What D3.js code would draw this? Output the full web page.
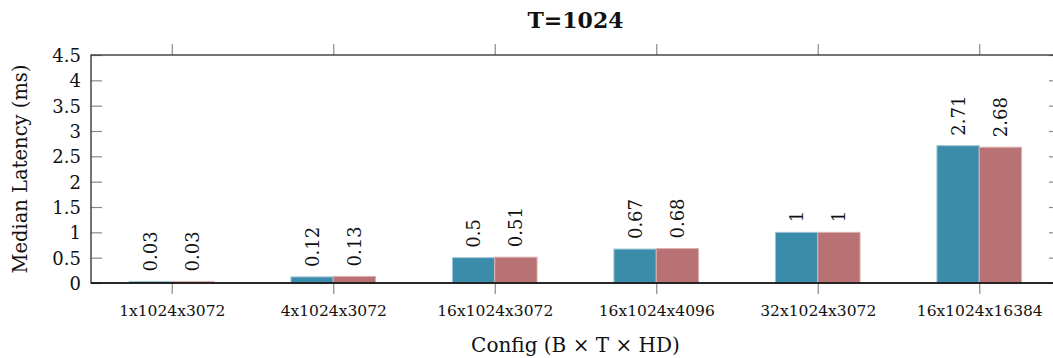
<!DOCTYPE html>
<html>
<head>
<meta charset="utf-8">
<script src="https://cdn.jsdelivr.net/npm/d3@7/dist/d3.min.js"></script>
<style>
  html, body { margin: 0; padding: 0; background: #fff; }
  svg { display: block; overflow: hidden; }
  text { font-family: "DejaVu Serif", "Liberation Serif", serif; fill: #111; }
</style>
</head>
<body>
<div id="chart"></div>
<script>
// Median latency per configuration, T = 1024
const configs = ["1x1024x3072", "4x1024x3072", "16x1024x3072", "16x1024x4096", "32x1024x3072", "16x1024x16384"];
const seriesA = [0.03, 0.12, 0.5, 0.67, 1, 2.71];
const seriesB = [0.03, 0.13, 0.51, 0.68, 1, 2.68];
const yTicks = [0, 0.5, 1, 1.5, 2, 2.5, 3, 3.5, 4, 4.5];

const colorA = "#3b8bab", strokeA = "#9cc6d6";
const colorB = "#b87273", strokeB = "#dbb1b1";

const W = 1053, H = 358;
const margin = { left: 91, right: -7, top: 55, bottom: 75 };
const x0 = margin.left, x1 = W - margin.right;
const y0 = H - margin.bottom, y1 = margin.top;

const svg = d3.select("#chart").append("svg")
  .attr("width", W).attr("height", H);

const x = d3.scalePoint().domain(configs).range([x0, x1]).padding(0.5);
const y = d3.scaleLinear().domain([0, 4.5]).range([y0, y1]);
const barW = x.step() * 0.262;
const tickLen = 11;

// Bars
const groups = svg.append("g").selectAll("g")
  .data(configs).join("g");

groups.append("rect")
  .attr("x", d => x(d) - barW)
  .attr("y", (d, i) => y(seriesA[i]))
  .attr("width", barW)
  .attr("height", (d, i) => y(0) - y(seriesA[i]))
  .attr("fill", colorA).attr("stroke", strokeA).attr("stroke-width", 1);

groups.append("rect")
  .attr("x", d => x(d))
  .attr("y", (d, i) => y(seriesB[i]))
  .attr("width", barW)
  .attr("height", (d, i) => y(0) - y(seriesB[i]))
  .attr("fill", colorB).attr("stroke", strokeB).attr("stroke-width", 1);

// Value labels, rotated above each bar
function valueLabel(sel, values, offset) {
  sel.append("text")
    .attr("transform", (d, i) => `translate(${x(d) + offset},${y(values[i]) - 10}) rotate(-90)`)
    .attr("dy", "0.36em")
    .attr("font-size", 18)
    .attr("text-anchor", "start")
    .text((d, i) => String(values[i]));
}
valueLabel(groups, seriesA, -barW / 2);
valueLabel(groups, seriesB, barW / 2);

// Y axes (left with labels, right mirrored), ticks pointing inward
const yLeft = svg.append("g").attr("transform", `translate(${x0},0)`)
  .call(d3.axisLeft(y).tickValues(yTicks).tickSize(-tickLen).tickPadding(10).tickFormat(d3.format("")));
const yRight = svg.append("g").attr("transform", `translate(${x1},0)`)
  .call(d3.axisRight(y).tickValues(yTicks).tickSize(-tickLen).tickFormat(""));

// X axes (bottom with labels, top mirrored), ticks pointing outward
const xBottom = svg.append("g").attr("transform", `translate(0,${y0})`)
  .call(d3.axisBottom(x).tickSize(tickLen).tickPadding(11));
const xTop = svg.append("g").attr("transform", `translate(0,${y1})`)
  .call(d3.axisTop(x).tickSize(tickLen).tickFormat(""));

[yLeft, yRight, xBottom, xTop].forEach(g => {
  g.select(".domain").remove();
  g.selectAll(".tick line").attr("stroke", "#8a8a8a").attr("stroke-width", 1.2);
  g.selectAll("text").attr("fill", "#111").attr("font-family", "DejaVu Serif");
});
yLeft.selectAll("text").attr("font-size", 18).attr("text-anchor", "end").attr("dy", "0.36em");
xBottom.selectAll("text").attr("font-size", 15.5);

// Frame
svg.append("rect")
  .attr("x", x0).attr("y", y1)
  .attr("width", x1 - x0).attr("height", y0 - y1)
  .attr("fill", "none").attr("stroke", "#3a3a3a").attr("stroke-width", 1.4);
svg.append("line")
  .attr("x1", x0).attr("x2", x1).attr("y1", y0).attr("y2", y0)
  .attr("stroke", "#111").attr("stroke-width", 1.4);

// Title and axis titles
svg.append("text")
  .attr("x", (x0 + x1) / 2).attr("y", 28)
  .attr("text-anchor", "middle").attr("font-size", 22).attr("font-weight", "bold")
  .text("T=1024");

svg.append("text")
  .attr("x", (x0 + x1) / 2).attr("y", 352)
  .attr("text-anchor", "middle").attr("font-size", 20)
  .text("Config (B × T × HD)");

svg.append("text")
  .attr("transform", `translate(27,${(y0 + y1) / 2}) rotate(-90)`)
  .attr("text-anchor", "middle").attr("font-size", 19.5)
  .text("Median Latency (ms)");
</script>
</body>
</html>
